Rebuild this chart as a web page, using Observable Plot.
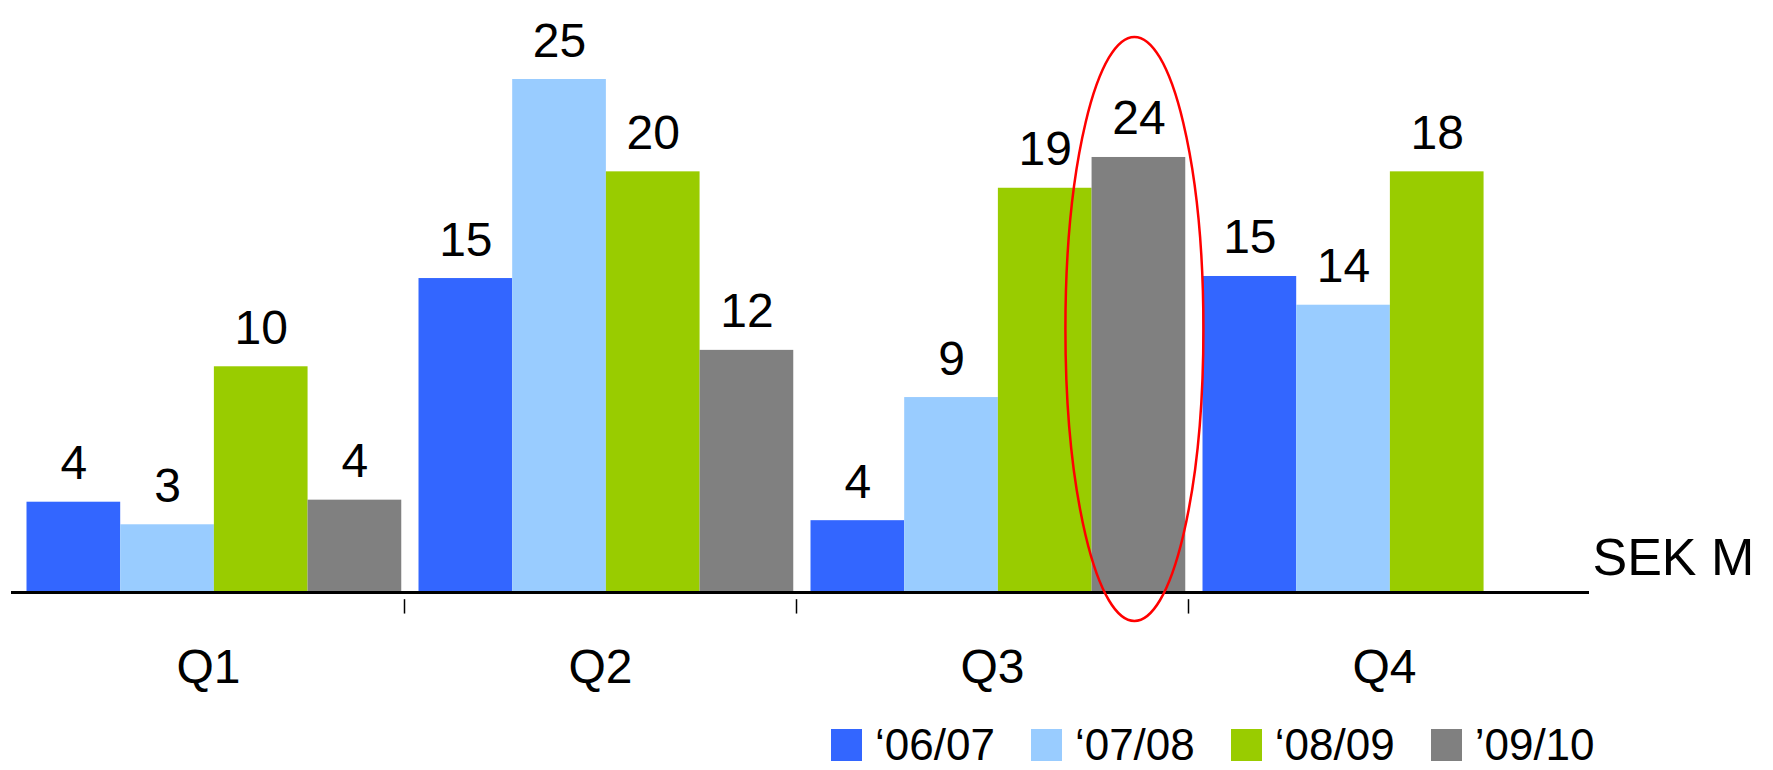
<!DOCTYPE html>
<html><head><meta charset="utf-8">
<script src="https://cdn.jsdelivr.net/npm/d3@7"></script>
<script src="https://cdn.jsdelivr.net/npm/@observablehq/plot@0.6"></script>
<style>
body{margin:0;background:#fff;font-family:"Liberation Sans",Arial,sans-serif;overflow:hidden;}
#chart svg{display:block;overflow:visible;}
#legend{display:flex;align-items:flex-start;height:50px;margin-top:-10px;margin-left:831px;font-size:44px;color:#000;white-space:nowrap;position:relative;}
.sw{display:inline-flex;align-items:center;margin-right:36px;}
.sw i{display:inline-block;width:31px;height:32px;margin-right:13px;}
</style></head><body>
<div id="chart"></div>
<div id="legend"></div>
<script>
// Categories
const quarters = ["Q1", "Q2", "Q3", "Q4"];
const seasons = ["\u201806/07", "\u201807/08", "\u201808/09", "\u201909/10"];
const colors = ["#3366FF", "#99CCFF", "#99CC00", "#808080"];
const unitLabel = "SEK M";

// Bar heights as drawn in the picture (per season, Q1..Q4)
const height0607 = [4.4, 15.3, 3.5, 15.4];
const height0708 = [3.3, 25.0, 9.5, 14.0];
const height0809 = [11.0, 20.5, 19.7, 20.5];
const height0910 = [4.5, 11.8, 21.2, null];

// Printed value labels (per season, Q1..Q4)
const label0607 = [4, 15, 4, 15];
const label0708 = [3, 25, 9, 14];
const label0809 = [10, 20, 19, 18];
const label0910 = [4, 12, 24, null];

// Highlighted bar (red ellipse)
const highlightQuarter = "Q3";
const highlightSeason = "\u201909/10";

const heights = [height0607, height0708, height0809, height0910];
const labels = [label0607, label0708, label0809, label0910];

const data = [];
quarters.forEach((q, qi) => seasons.forEach((s, si) => {
  const h = heights[si][qi];
  if (h == null) return;
  data.push({q, qi, s, si, h, label: String(labels[si][qi])});
}));

const groupInset = 0.037, barW = 0.239;
const x1 = d => d.qi + groupInset + d.si * barW;
const x2 = d => x1(d) + barW;
const xc = d => x1(d) + barW / 2;

const ellipseMark = (index, scales) => {
  const d = data.find(e => e.q === highlightQuarter && e.s === highlightSeason);
  const cx = scales.x(xc(d)) - 4;
  const top = scales.y(d.h) - 120, bottom = scales.y(0) + 29;
  const el = document.createElementNS("http://www.w3.org/2000/svg", "ellipse");
  el.setAttribute("cx", cx);
  el.setAttribute("cy", (top + bottom) / 2);
  el.setAttribute("rx", 69);
  el.setAttribute("ry", (bottom - top) / 2);
  el.setAttribute("fill", "none");
  el.setAttribute("stroke", "#FF0000");
  el.setAttribute("stroke-width", 2.5);
  return el;
};

const plot = Plot.plot({
  width: 1773,
  height: 730,
  marginLeft: 12,
  marginRight: 193,
  marginTop: 79,
  marginBottom: 138,
  x: {domain: [0, 4], axis: null},
  y: {domain: [0, 25], axis: null},
  color: {domain: seasons, range: colors},
  style: {fontFamily: "'Liberation Sans', Arial, sans-serif", background: "#fff", color: "#000"},
  marks: [
    Plot.rectY(data, {x1, x2, y1: 0, y2: "h", fill: "s"}),
    Plot.ruleY([0], {stroke: "#000", strokeWidth: 3, insetLeft: -1, insetRight: -9}),
    Plot.ruleX([1, 2, 3], {y1: -0.35, y2: -1.05, stroke: "#000", strokeWidth: 1.5}),
    Plot.text(data, {x: xc, y: "h", text: "label", dy: -23, lineAnchor: "bottom", fontSize: 48, fill: "#000"}),
    Plot.text(quarters, {x: (d, i) => i + 0.5, frameAnchor: "bottom", lineAnchor: "bottom", dy: 90, fontSize: 48, fill: "#000"}),
    Plot.text([unitLabel], {frameAnchor: "bottom-right", textAnchor: "start", lineAnchor: "bottom", dx: 12, dy: -18, fontSize: 52, fill: "#000"}),
    ellipseMark
  ]
});
document.getElementById("chart").appendChild(plot);

const legend = document.getElementById("legend");
seasons.forEach((s, i) => {
  const span = document.createElement("span");
  span.className = "sw";
  const sq = document.createElement("i");
  sq.style.background = colors[i];
  span.appendChild(sq);
  span.appendChild(document.createTextNode(s));
  legend.appendChild(span);
});
</script>
</body></html>
